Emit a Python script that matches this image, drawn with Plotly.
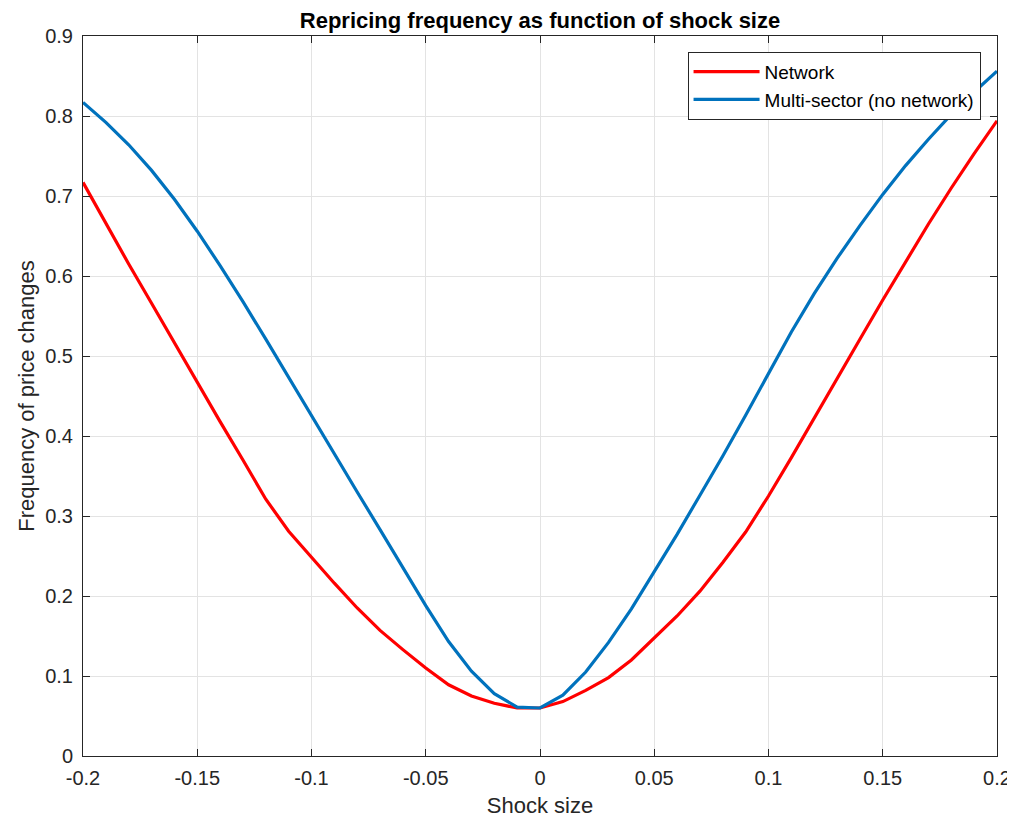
import plotly.graph_objects as go

shock = [round(-0.2 + 0.01 * i, 2) for i in range(41)]

network = [0.717, 0.665, 0.615, 0.566, 0.516, 0.467, 0.418, 0.370, 0.321, 0.281,
           0.248, 0.216, 0.185, 0.157, 0.133, 0.110, 0.089, 0.075, 0.066, 0.060,
           0.060, 0.068, 0.082, 0.098, 0.120, 0.147, 0.175, 0.206, 0.242, 0.280,
           0.325, 0.373, 0.423, 0.471, 0.521, 0.570, 0.618, 0.665, 0.710, 0.753,
           0.794]

multisector = [0.817, 0.792, 0.764, 0.732, 0.696, 0.656, 0.613, 0.568, 0.521, 0.473,
               0.425, 0.377, 0.330, 0.283, 0.235, 0.188, 0.143, 0.106, 0.078, 0.061,
               0.060, 0.076, 0.105, 0.142, 0.184, 0.230, 0.277, 0.326, 0.375, 0.426,
               0.478, 0.530, 0.578, 0.622, 0.663, 0.702, 0.738, 0.771, 0.802, 0.830,
               0.856]

xticks = [-0.2, -0.15, -0.1, -0.05, 0, 0.05, 0.1, 0.15, 0.2]
xticklabels = ["-0.2", "-0.15", "-0.1", "-0.05", "0", "0.05", "0.1", "0.15", "0.2"]
yticks = [0, 0.1, 0.2, 0.3, 0.4, 0.5, 0.6, 0.7, 0.8, 0.9]
yticklabels = ["0", "0.1", "0.2", "0.3", "0.4", "0.5", "0.6", "0.7", "0.8", "0.9"]

font = "Liberation Sans, Arial, Helvetica, sans-serif"
ink = "#262626"

fig = go.Figure()
fig.add_trace(go.Scatter(x=shock, y=network, mode="lines", name="Network",
                         line=dict(color="#FF0000", width=3.2)))
fig.add_trace(go.Scatter(x=shock, y=multisector, mode="lines",
                         name="Multi-sector (no network)",
                         line=dict(color="#0072BD", width=3.2)))

axis_common = dict(showline=True, linecolor=ink, linewidth=1, mirror="ticks",
                   ticks="inside", ticklen=7, tickcolor=ink,
                   showgrid=True, gridcolor="#E3E3E3", gridwidth=1, zeroline=False,
                   automargin=False,
                   tickfont=dict(size=20, color=ink, family=font))

fig.update_xaxes(range=[-0.2, 0.2], tickvals=xticks, ticktext=xticklabels,
                 ticklabelstandoff=4,
                 title=dict(text="Shock size", font=dict(size=22, color=ink, family=font),
                            standoff=10),
                 **axis_common)
fig.update_yaxes(range=[0, 0.9], tickvals=yticks, ticktext=yticklabels,
                 ticklabelstandoff=5,
                 title=dict(text="Frequency of price changes",
                            font=dict(size=22, color=ink, family=font), standoff=4),
                 **axis_common)

fig.update_layout(
    width=1007, height=810,
    margin=dict(l=75, r=18, t=28, b=62, autoexpand=False),
    paper_bgcolor="white", plot_bgcolor="white",
    title=dict(text="<b>Repricing frequency as function of shock size</b>",
               font=dict(size=22, color="black", family=font),
               x=0.5, xref="paper", xanchor="center", y=1, yref="paper",
               yanchor="bottom", pad=dict(b=8)),
    legend=dict(x=0.982, y=0.978, xanchor="right", yanchor="top",
                bgcolor="white", bordercolor=ink, borderwidth=1,
                font=dict(size=19, color="black", family=font),
                itemwidth=66, tracegroupgap=0),
    showlegend=True,
)

fig.write_html("out.html")
